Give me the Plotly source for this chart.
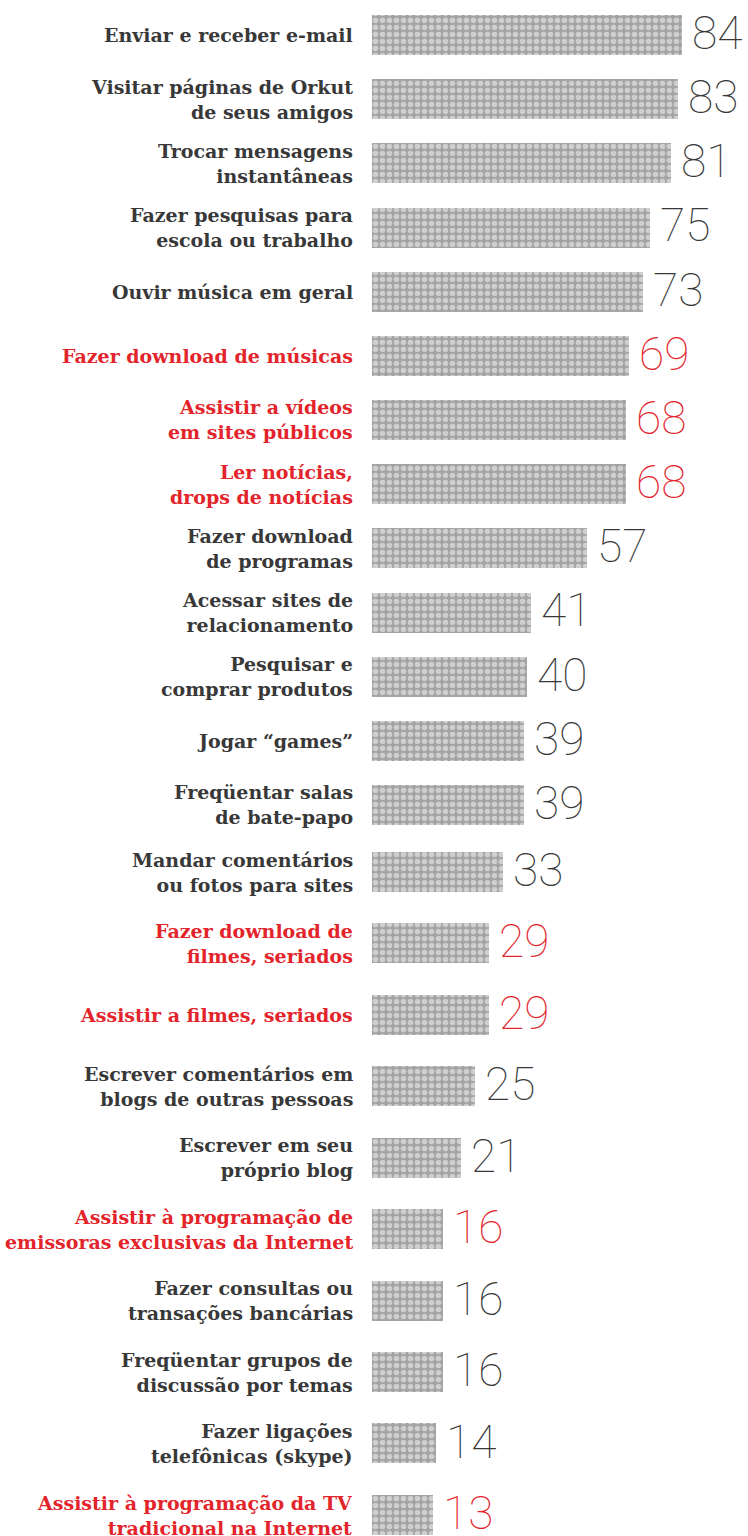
import plotly.graph_objects as go
from plotly.subplots import make_subplots

# ---- data ----
labels = [
    "Enviar e receber e-mail",
    "Visitar páginas de Orkut<br>de seus amigos",
    "Trocar mensagens<br>instantâneas",
    "Fazer pesquisas para<br>escola ou trabalho",
    "Ouvir música em geral",
    "Fazer download de músicas",
    "Assistir a vídeos<br>em sites públicos",
    "Ler notícias,<br>drops de notícias",
    "Fazer download<br>de programas",
    "Acessar sites de<br>relacionamento",
    "Pesquisar e<br>comprar produtos",
    "Jogar “games”",
    "Freqüentar salas<br>de bate-papo",
    "Mandar comentários<br>ou fotos para sites",
    "Fazer download de<br>filmes, seriados",
    "Assistir a filmes, seriados",
    "Escrever comentários em<br>blogs de outras pessoas",
    "Escrever em seu<br>próprio blog",
    "Assistir à programação de<br>emissoras exclusivas da Internet",
    "Fazer consultas ou<br>transações bancárias",
    "Freqüentar grupos de<br>discussão por temas",
    "Fazer ligações<br>telefônicas (skype)",
    "Assistir à programação da TV<br>tradicional na Internet",
]
values = [84, 83, 81, 75, 73, 69, 68, 68, 57, 41, 40, 39, 39, 33, 29, 29, 25, 21, 16, 16, 16, 14, 13]
highlight = [False, False, False, False, False, True, True, True, False, False, False, False, False,
             False, True, True, False, False, True, False, False, False, True]

# ---- styling ----
W, H = 748, 1536
DARK = "#383838"
RED = "#e3242b"
LABEL_FONT = "DejaVu Serif"
VALUE_FONT = "Roboto"

split = 13  # two blocks with slightly different row spacing
groups = [(0, split), (split, len(labels))]

x_left_px = 372
px_per_unit = 3.51
x_base = -15 / px_per_unit
x_max = x_base + (W - x_left_px) / px_per_unit

A_first, A_last = 35, 805
B_first, B_last = 872, 1515
sA = (A_last - A_first) / (split - 1)
sB = (B_last - B_first) / (len(labels) - split - 1)
A_top = A_first - sA / 2
A_bot = A_last + sA / 2
B_top = A_bot
B_bot = H

fig = make_subplots(rows=2, cols=1, shared_xaxes=False, vertical_spacing=0)

BAR_H = 40
for gi, (a, b) in enumerate(groups):
    row = gi + 1
    cats = labels[a:b]
    vals = values[a:b]
    s = sA if gi == 0 else sB
    fig.add_trace(
        go.Bar(
            y=cats, x=[v - x_base for v in vals], base=x_base, orientation="h",
            width=BAR_H / s,
            marker=dict(
                color="#aaaaaa",
                line=dict(width=0),
                pattern=dict(shape=".", fgcolor="#cfcfcf", bgcolor="#a3a3a3",
                             size=7, solidity=0.5, fillmode="replace"),
            ),
            hoverinfo="skip", showlegend=False,
        ),
        row=row, col=1,
    )

fig.update_xaxes(range=[x_base, x_max], domain=[x_left_px / W, 1], visible=False, fixedrange=True)
fig.update_layout(
    yaxis=dict(domain=[1 - A_bot / H, 1 - A_top / H], type="category",
               categoryorder="array", categoryarray=labels[:split],
               range=[split - 0.5, -0.5], visible=False),
    yaxis2=dict(domain=[0, 1 - B_top / H], type="category",
                categoryorder="array", categoryarray=labels[split:],
                range=[(B_bot - B_first) / sB, -(B_first - B_top) / sB], visible=False),
)

ann = []
for i, (lab, v, hl) in enumerate(zip(labels, values, highlight)):
    yref = "y" if i < split else "y2"
    xref = "x" if i < split else "x2"
    col = RED if hl else DARK
    ann.append(dict(
        x=355 / W, xref="paper", y=lab, yref=yref, text=lab, showarrow=False,
        xanchor="right", yanchor="middle", align="right",
        font=dict(family=LABEL_FONT, size=19, color=col, weight="bold"),
    ))
    ann.append(dict(
        x=v, xref=xref, y=lab, yref=yref, text=str(v), showarrow=False,
        xanchor="left", yanchor="middle", xshift=8, yshift=2,
        font=dict(family=VALUE_FONT, size=46, color=col, weight=100),
    ))

fig.update_layout(
    annotations=ann,
    width=W, height=H,
    margin=dict(l=0, r=0, t=0, b=0),
    paper_bgcolor="white", plot_bgcolor="white",
    showlegend=False, bargap=0,
)

fig.write_html("out.html")
